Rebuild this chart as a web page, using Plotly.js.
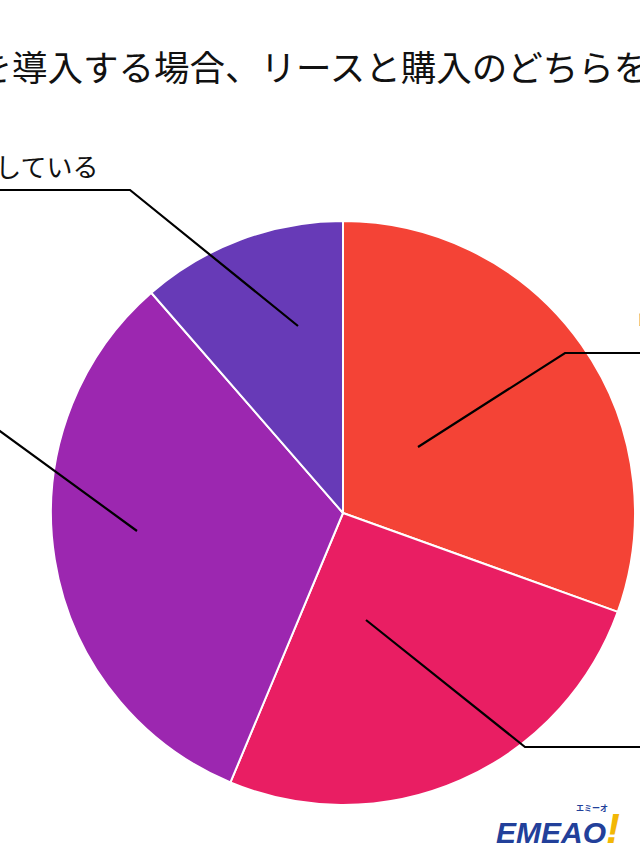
<!DOCTYPE html>
<html>
<head>
<meta charset="utf-8">
<script src="https://cdn.plot.ly/plotly-3.0.1.min.js"></script>
<style>
  html, body { margin: 0; padding: 0; width: 640px; height: 853px; overflow: hidden; background: #fff; }
  #chart { position: absolute; left: -180px; top: 0; width: 1000px; height: 853px; }
</style>
</head>
<body>
<div id="chart"></div>
<script>
// ---- data ----
const titleText = "社用車を導入する場合、リースと購入のどちらを選びますか？";
const labels = ["リース", "購入", "どちらとも言えない", "すでに導入している"];
const values = [30.5, 25.8, 32.3, 11.4];
const colors = ["#F44336", "#E91E63", "#9C27B0", "#673AB7"];

// ---- layout geometry (page pixels; div is offset by 180px) ----
const W = 1000, H = 853, OFF = 180;
const cx = 343 + OFF, cy = 513, R = 292;
const px = x => (x + OFF) / W;
const py = y => 1 - y / H;

// leader lines: [inner point, elbow, end], label position/anchor
const leaders = [
  { pts: [[418, 447], [565, 353], [760, 353]], tx: 632, ty: 321, anchor: "left" },
  { pts: [[366, 620], [525, 747], [760, 747]], tx: 645, ty: 716, anchor: "left" },
  { pts: [[137, 531], [-22, 415], [-170, 415]], tx: -30, ty: 390, anchor: "right" },
  { pts: [[298, 326], [130, 190], [-70, 190]], tx: 100, ty: 165, anchor: "right" }
];

const shapes = leaders.map(l => ({
  type: "path", xref: "paper", yref: "paper",
  path: "M " + l.pts.map(p => px(p[0]) + "," + py(p[1])).join(" L "),
  line: { color: "#000", width: 2.2 }
}));

const annotations = leaders.map((l, i) => ({
  xref: "paper", yref: "paper", x: px(l.tx), y: py(l.ty),
  xanchor: l.anchor, yanchor: "middle", showarrow: false,
  text: labels[i],
  font: { family: "Noto Sans CJK JP", size: 26, color: "#111" }
}));

// logo
annotations.push({
  xref: "paper", yref: "paper", x: px(494), y: py(828),
  xanchor: "left", yanchor: "middle", showarrow: false,
  text: "<b><i>EMEAO</i></b><span style='color:#F2B705;font-size:42px'><b><i>!</i></b></span>",
  font: { family: "Liberation Sans", size: 30, color: "#22409A" }
});
annotations.push({
  xref: "paper", yref: "paper", x: px(592), y: py(807),
  xanchor: "center", yanchor: "middle", showarrow: false,
  text: "<b>エミーオ</b>",
  font: { family: "Noto Sans CJK JP", size: 8, color: "#22409A" }
});

const trace = {
  type: "pie",
  labels: labels,
  values: values,
  sort: false,
  direction: "clockwise",
  rotation: 0,
  textinfo: "none",
  hoverinfo: "label+percent",
  marker: { colors: colors, line: { color: "#ffffff", width: 2 } },
  domain: { x: [(cx - R) / W, (cx + R) / W], y: [(H - cy - R) / H, (H - cy + R) / H] },
  showlegend: false
};

const layout = {
  width: W, height: H,
  margin: { l: 0, r: 0, t: 0, b: 0 },
  paper_bgcolor: "#fff",
  showlegend: false,
  title: {
    text: titleText,
    xref: "container", yref: "container",
    x: (-130 + OFF) / W, xanchor: "left",
    y: 1 - 69 / H, yanchor: "middle",
    font: { family: "Noto Sans CJK JP", size: 35.5, color: "#111" }
  },
  shapes: shapes,
  annotations: annotations
};

Plotly.newPlot("chart", [trace], layout, { staticPlot: true, displayModeBar: false });
</script>
</body>
</html>
